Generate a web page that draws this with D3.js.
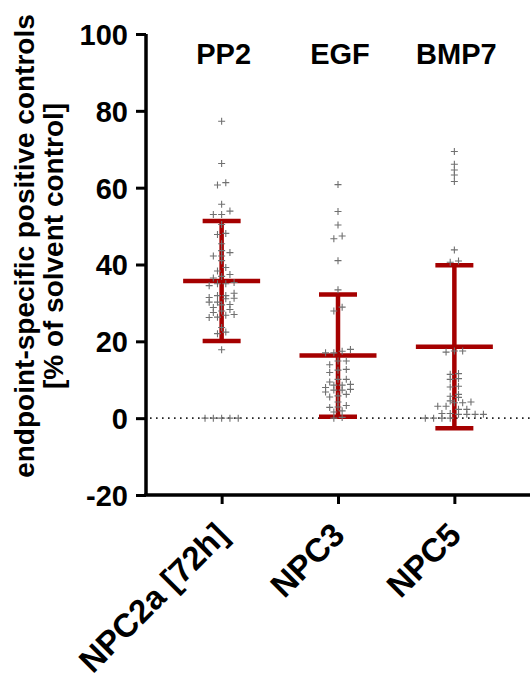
<!DOCTYPE html>
<html>
<head>
<meta charset="utf-8">
<script src="https://cdn.jsdelivr.net/npm/d3@7"></script>
<style>
  html, body { margin: 0; padding: 0; background: #fff; }
  svg { display: block; }
  text { font-family: "Liberation Sans", Arial, sans-serif; font-weight: bold; fill: #000; }
</style>
</head>
<body>
<svg id="chart" width="530" height="681"></svg>
<script>
// Cell lines on the x axis and the positive control used for each endpoint
const cellLines = ["NPC2a [72h]", "NPC3", "NPC5"];
const controls = ["PP2", "EGF", "BMP7"];

// Individual measurements, % of solvent control
const npc2aValues = [77.3, 66.3, 61.3, 60.7, 55.7, 53.9, 53.0, 53.0, 50.4, 48.1, 47.8, 45.4,
  43.6, 43.1, 42.2, 42.2, 41.0, 39.2, 38.3, 37.4, 36.9, 36.5, 35.3, 35.0, 35.0, 34.5, 32.5,
  31.9, 31.9, 31.4, 31.2, 31.1, 30.2, 30.2, 29.6, 29.5, 28.8, 28.3, 27.9, 27.5, 27.0, 26.8,
  26.3, 26.2, 23.6, 22.4, 22.0, 17.8, 0, 0, 0, 0, 0];
const npc3Values = [60.8, 53.8, 50.3, 47.4, 46.7, 41.0, 33.4, 28.9, 27.9, 17.9, 17.4, 17.0,
  17.0, 14.9, 14.9, 13.9, 12.7, 12.5, 11.9, 10.1, 10.1, 9.4, 8.8, 8.6, 8.6, 8.0, 7.5, 7.3,
  7.3, 6.8, 6.2, 5.8, 5.5, 4.2, 3.3, 2.9, 2.8, 1.9, 1.6, 0.2, 0.0];
const npc5Values = [69.4, 66.1, 64.6, 63.3, 61.6, 43.8, 40.9, 40.6, 17.5, 17.5, 17.2, 11.6,
  11.4, 10.3, 10.1, 8.3, 8.1, 6.2, 5.7, 5.4, 4.5, 4.2, 4.0, 4.0, 3.1, 3.1, 2.3, 2.3, 1.2,
  1.2, 1.0, 1.0, 1.0, 1.0, 0.0, 0.0, 0.0, 0.0];

// Summary statistics per cell line: mean ± SD
const means = [35.7, 16.3, 18.6];
const sds = [15.6, 15.9, 21.2];

const yTicks = [-20, 0, 20, 40, 60, 80, 100];

const groups = [npc2aValues, npc3Values, npc5Values];

const svg = d3.select("#chart");
const axisLeftX = 146, plotRight = 530, plotTop = 34, plotBottom = 495;

const y = d3.scaleLinear().domain([-20, 100]).range([plotBottom, plotTop]);
const x = d3.scalePoint().domain(cellLines).range([axisLeftX, plotRight]).padding(0.65);

const red = "#a50000";
const pointColor = "#707070";

// dotted reference line at 0 %
svg.append("line")
  .attr("x1", axisLeftX + 4).attr("x2", plotRight)
  .attr("y1", y(0)).attr("y2", y(0))
  .attr("stroke", "#222").attr("stroke-width", 1.6)
  .attr("stroke-dasharray", "1.6,4.4");

// mean ± SD bars
const errG = svg.append("g");
cellLines.forEach((c, i) => {
  const cx = x(c);
  const m = means[i], s = sds[i];
  errG.append("line")
    .attr("x1", cx).attr("x2", cx).attr("y1", y(m + s)).attr("y2", y(m - s))
    .attr("stroke", red).attr("stroke-width", 4.5);
  [m + s, m - s].forEach(v => {
    errG.append("line")
      .attr("x1", cx - 19).attr("x2", cx + 19).attr("y1", y(v)).attr("y2", y(v))
      .attr("stroke", red).attr("stroke-width", 4.5);
  });
  errG.append("line")
    .attr("x1", cx - 38.5).attr("x2", cx + 38.5).attr("y1", y(m)).attr("y2", y(m))
    .attr("stroke", red).attr("stroke-width", 4.5);
});

// scatter: values in nearby rows are spread sideways and centred on the column
const step = 8.3, rowGap = 4.5, arm = 3.5;
const ptsG = svg.append("g");
groups.forEach((vals, gi) => {
  const cx = x(cellLines[gi]);
  const sorted = vals.slice().sort((a, b) => a - b);
  const rows = [];
  sorted.forEach(v => {
    const last = rows[rows.length - 1];
    if (last && Math.abs(y(last[0]) - y(v)) < rowGap) last.push(v);
    else rows.push([v]);
  });
  rows.forEach(row => {
    row.forEach((v, k) => {
      const px = cx + (k - (row.length - 1) / 2) * step;
      const py = y(v);
      ptsG.append("path")
        .attr("d", `M${px - arm},${py}H${px + arm}M${px},${py - arm}V${py + arm}`)
        .attr("stroke", pointColor).attr("stroke-width", 1.1).attr("fill", "none");
    });
  });
});

// y axis
const yAxis = svg.append("g")
  .attr("transform", `translate(${axisLeftX},0)`)
  .call(d3.axisLeft(y).tickValues(yTicks).tickSize(10).tickPadding(8).tickFormat(d => String(d)));
yAxis.select(".domain").attr("stroke", "#000").attr("stroke-width", 3.5)
  .attr("d", `M0,${plotTop}V${plotBottom}`);
yAxis.selectAll(".tick line").attr("stroke", "#000").attr("stroke-width", 3);
yAxis.selectAll(".tick text").style("font-size", "29px").attr("dy", "0.36em");

// x axis
const xAxis = svg.append("g")
  .attr("transform", `translate(0,${plotBottom})`)
  .call(d3.axisBottom(x).tickSize(9).tickPadding(0));
xAxis.select(".domain").attr("stroke", "#000").attr("stroke-width", 3.5)
  .attr("d", `M${axisLeftX - 1.75},0H${plotRight}`);
xAxis.selectAll(".tick line").attr("stroke", "#000").attr("stroke-width", 3);
xAxis.selectAll(".tick text")
  .style("font-size", "33px")
  .attr("text-anchor", "end")
  .attr("y", 0).attr("dy", 0)
  .attr("transform", "translate(8,42) rotate(-45)");

// positive control names above each column
svg.append("g").selectAll("text").data(controls).join("text")
  .attr("x", (d, i) => x(cellLines[i]) + 2)
  .attr("y", 64)
  .attr("text-anchor", "middle")
  .style("font-size", "29px")
  .text(d => d);

// y axis title
const title = svg.append("text")
  .attr("transform", "translate(0,246) rotate(-90)")
  .attr("text-anchor", "middle")
  .style("font-size", "28px");
title.append("tspan").attr("x", 0).attr("y", 34).text("endpoint-specific positive controls");
title.append("tspan").attr("x", 0).attr("y", 63).text("[% of solvent control]");
</script>
</body>
</html>
